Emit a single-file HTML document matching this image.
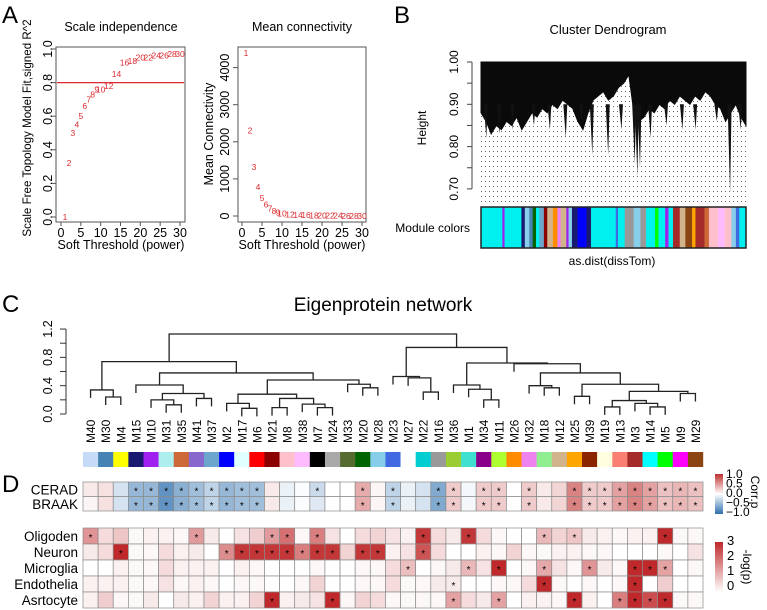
<!DOCTYPE html>
<html><head><meta charset="utf-8"><style>
html,body{margin:0;padding:0;background:#fff;}
svg{display:block;font-family:"Liberation Sans",Arial,sans-serif;}
</style></head><body>
<svg id="s" width="767" height="610" viewBox="0 0 767 610" xmlns="http://www.w3.org/2000/svg">
<defs><pattern id="dots" width="4" height="5" patternUnits="userSpaceOnUse"><rect x="1" y="1" width="1" height="1" fill="#666"/></pattern></defs>
<text x="2" y="23" font-size="24">A</text>
<text x="394" y="23" font-size="24">B</text>
<text x="2" y="312" font-size="24">C</text>
<text x="2" y="492" font-size="24">D</text>
<text x="121" y="31" font-size="12.5" text-anchor="middle">Scale independence</text>
<text x="302" y="31" font-size="12.5" text-anchor="middle">Mean connectivity</text>
<text x="121" y="249" font-size="12.5" text-anchor="middle">Soft Threshold (power)</text>
<text x="302" y="249" font-size="12.5" text-anchor="middle">Soft Threshold (power)</text>
<text transform="translate(31,128) rotate(-90)" font-size="11.6" text-anchor="middle">Scale Free Topology Model Fit,signed R^2</text>
<text transform="translate(213,134) rotate(-90)" font-size="12.5" text-anchor="middle">Mean Connectivity</text>
<text x="608" y="34" font-size="13" text-anchor="middle">Cluster Dendrogram</text>
<text transform="translate(426,128) rotate(-90)" font-size="12" text-anchor="middle">Height</text>
<text x="470" y="232" font-size="12" text-anchor="end">Module colors</text>
<text x="612" y="265" font-size="12" text-anchor="middle">as.dist(dissTom)</text>
<text x="383" y="311" font-size="19" text-anchor="middle">Eigenprotein network</text>
<text transform="translate(751,492) rotate(90)" font-size="12" text-anchor="middle">Corr.p</text>
<text transform="translate(743,567) rotate(90)" font-size="12" text-anchor="middle">-log(p)</text>
</svg>
<script>
const NS='http://www.w3.org/2000/svg';
const svg=document.getElementById('s');
function mk(tag,attrs){const e=document.createElementNS(NS,tag);for(const k in attrs)e.setAttribute(k,attrs[k]);svg.appendChild(e);return e;}

// ---------- Panel A data ----------
const powers=[1,2,3,4,5,6,7,8,9,10,12,14,16,18,20,22,24,26,28,30];
const scaleFitR2=[0.0,0.32,0.5,0.55,0.6,0.66,0.7,0.73,0.76,0.76,0.78,0.85,0.92,0.93,0.95,0.95,0.96,0.96,0.97,0.97];
const meanConn=[4400,2300,1320,780,490,310,200,140,100,70,45,30,22,16,12,9,7,5,4,3];
const xTicks=[0,5,10,15,20,25,30];
const r2Ticks=[0,0.2,0.4,0.6,0.8,1.0];
const r2TickLabels=['0.0','0.2','0.4','0.6','0.8','1.0'];
const connTicks=[0,1000,2000,3000,4000];
const cutoffR2=0.8;

// ---------- Panel B data ----------
const bEnvelope=[0.88,0.86,0.83,0.85,0.84,0.86,0.85,0.87,0.84,0.86,0.88,0.87,0.89,0.88,0.90,0.89,0.91,0.90,0.89,0.86,0.84,0.88,0.91,0.92,0.93,0.91,0.92,0.94,0.95,0.97,0.88,0.86,0.87,0.89,0.88,0.90,0.89,0.91,0.90,0.92,0.91,0.90,0.92,0.91,0.93,0.92,0.90,0.89,0.86,0.88,0.90,0.87,0.85];
const bSpikePos=[0.02,0.07,0.12,0.2,0.26,0.32,0.38,0.42,0.48,0.53,0.58,0.59,0.6,0.64,0.7,0.76,0.81,0.89,0.94,0.98];
const bSpikeH=[0.82,0.83,0.84,0.85,0.84,0.82,0.86,0.78,0.78,0.84,0.76,0.73,0.75,0.82,0.85,0.84,0.84,0.86,0.69,0.84];
const bTicks=[1.0,0.95,0.9,0.85,0.8,0.75,0.7];
const bTickLabels=['1.00','','0.90','','0.80','','0.70'];
const stripeColors=['#00f0f0','#a020f0','#00f0f0','#191970','#87ceeb','#4682b4','#006400','#00f0f0','#6ca6cd','#8b0000','#d2b48c','#ff8c00','#ee82ee','#d2b48c','#a020f0','#87ceeb','#191970','#0000ff','#191970','#00f0f0','#4169e1','#00f0f0','#999999','#87ceeb','#999999','#00f0f0','#00ff00','#00f0f0','#a020f0','#00f0f0','#a52a2a','#d2b48c','#8b4513','#ffa500','#a52a2a','#cd6839','#ffc0cb','#ffbbff','#ffc0cb','#87ceeb','#4169e1','#00f0f0'];
const stripeWidths=[19,2,15,3,4,3,3,3,4,3,5,4,3,5,2,3,5,8,4,22,2,6,8,6,5,8,3,6,3,4,6,5,6,3,8,4,8,6,6,4,3,6];

// ---------- Panel C data ----------
const modules=['M40','M30','M4','M15','M10','M31','M35','M41','M37','M2','M17','M6','M21','M8','M38','M7','M24','M33','M20','M28','M23','M27','M22','M16','M36','M1','M34','M11','M26','M32','M18','M12','M25','M39','M19','M13','M3','M14','M5','M9','M29'];
const moduleColors=['#c6dbf5','#4682b4','#ffff00','#191970','#a020f0','#afeeee','#cd6839','#8968cd','#6ca6cd','#0000ff','#e0ffff','#ff0000','#8b0000','#ffc0cb','#ffbbff','#000000','#a9a9a9','#556b2f','#006400','#87ceeb','#4169e1','#ffffff','#00ced1','#999999','#9acd32','#40e0d0','#8b008b','#adff2f','#ff8c00','#ee82ee','#90ee90','#d2b48c','#ffa500','#8b2500','#ffffe0','#fa8072','#a52a2a','#00ffff','#00ff00','#ff00ff','#8b4513'];
const merges=[[-2,-3],[-1,1],[-6,-7],[-5,3],[-8,-9],[4,5],[-4,6],[-11,-12],[-10,8],[-13,-14],[-16,-17],[-15,11],[10,12],[9,13],[-19,-20],[-18,15],[14,16],[7,17],[2,18],[-23,-24],[-22,20],[-21,21],[-27,-28],[-26,23],[-25,24],[-31,-32],[-30,26],[-33,-34],[-35,-36],[-38,-39],[-37,30],[29,31],[-40,-41],[32,33],[28,34],[27,35],[-29,36],[25,37],[22,38],[19,39]];
const mergeHeights=[0.24,0.34,0.13,0.20,0.22,0.29,0.41,0.08,0.15,0.09,0.09,0.14,0.22,0.28,0.37,0.42,0.48,0.58,0.74,0.31,0.51,0.53,0.20,0.35,0.41,0.37,0.40,0.25,0.10,0.10,0.15,0.19,0.29,0.32,0.42,0.58,0.71,0.72,0.94,1.13];
const cTicks=[0,0.2,0.4,0.6,0.8,1.0,1.2];
const cTickLabels=['0.0','','0.4','','0.8','','1.2'];

// ---------- Panel D data ----------
const traitNames=['CERAD','BRAAK'];
const ceradCorr=[0.1,0.15,-0.2,-0.5,-0.5,-0.75,-0.55,-0.45,-0.3,-0.5,-0.45,-0.45,0.1,-0.1,-0.02,-0.25,0,0,0.4,0.05,-0.3,-0.1,-0.2,-0.6,0.25,-0.05,0.25,0.25,0,0.25,0.1,0.2,0.6,0.25,0.25,0.45,0.6,0.45,0.3,0.35,0.3];
const braakCorr=[0.05,0.15,-0.2,-0.5,-0.5,-0.75,-0.55,-0.45,-0.3,-0.5,-0.45,-0.45,0.1,-0.1,-0.02,-0.15,0,0,0.4,0.05,-0.3,-0.1,-0.2,-0.6,0.25,-0.05,0.25,0.25,0,0.25,0.1,0.2,0.6,0.25,0.25,0.45,0.6,0.45,0.3,0.35,0.3];
const ceradStars=[3,4,5,6,7,8,9,10,11,15,18,20,23,24,26,27,29,32,33,34,35,36,37,38,39,40];
const braakStars=[3,4,5,6,7,8,9,10,11,18,20,23,24,26,27,29,32,33,34,35,36,37,38,39,40];
const cellNames=['Oligoden','Neuron','Microglia','Endothelia','Asrtocyte'];
const oligoLogP=[1.5,0.5,0.8,0.1,0.2,0.2,0.1,1.4,0.3,0,0.4,0.7,1.4,2,0.1,1.8,0.4,0,0.5,0.6,0.4,0.2,2.8,0.5,0.3,2.8,0.5,0.1,0,0,1,0.6,0.8,0.3,0.2,0.1,0.2,0.2,3,0.1,0.1];
const neuronLogP=[0.3,0.5,3,0.1,0.1,0.5,0.2,0.3,0,1.6,2.8,2.8,2.8,2.8,1.8,2.8,2.8,0.6,2.8,2.8,0.2,0.4,2.4,0.5,0,0,0.2,0.1,0.6,0.1,0.1,0.2,0.2,0.1,0.1,0,0,0,0.1,0,0.4];
const microLogP=[0,0,0.2,0.1,0.1,0.5,0.2,0.2,0.2,0,0.2,0.1,0,0,0,0.1,0,0,0.1,0.1,0.5,0.9,0,0.1,0.3,1,0.4,3,0,0.1,1.2,0.4,0.1,1.5,0.3,0.1,3,3,1.3,0,0.1];
const endoLogP=[0.2,0.2,0.2,0.1,0.1,0.4,0.1,0.2,0.1,0,0.1,0.1,0,0,0.1,0.6,0,0,0.1,0.1,0.5,0.1,0.1,0.3,0.3,0,0,0.1,0.1,0.5,3,0.1,0,0.1,0,0.1,3,0,0.7,0,0];
const astroLogP=[0.2,0.7,0.1,0.1,0.3,0,0.3,0.2,0.6,0.2,0.2,0.6,3,0.2,0.3,0.4,3,0.1,0.6,0.5,0.1,0.1,0.1,0.1,1.3,0.5,0.3,1.3,0,0.2,0.2,0.1,3,0.2,0,1.8,3,2.5,3,0.1,0.1];
const oligoStars=[0,7,12,13,15,22,25,30,32,38];
const neuronStars=[2,9,10,11,12,13,14,15,16,18,19,22];
const microStars=[21,25,27,30,33,36,37,38];
const endoStars=[24,30,36];
const astroStars=[12,16,24,27,32,35,36,37,38];
const corrLegendLabels=['1.0','0.5','0.0','\u22120.5','\u22121.0'];
const logpLegendLabels=['3','2','1','0'];

// ---------- Panel A drawing ----------
const redCol='#dd2a2f';
function drawA(px0,px1,box,yf,vals,ticks,tlabels,yTickX,prefix){
  const xf=p=>px0+p*(px1-px0)/30;
  const r=mk('rect',{x:box[0],y:box[1],width:box[2]-box[0],height:box[3]-box[1],fill:'none',stroke:'#555','stroke-width':1});
  
  
  xTicks.forEach(t=>{
    const l=mk('line',{x1:xf(t),x2:xf(t),y1:box[3],y2:box[3]+4,stroke:'#555'});
    
    
    const tx=mk('text',{x:xf(t),y:box[3]+15,'font-size':12.5,'text-anchor':'middle'});tx.textContent=t;
    
    
  });
  ticks.forEach((t,i)=>{
    const l=mk('line',{x1:box[0]-5,x2:box[0],y1:yf(t),y2:yf(t),stroke:'#555'});
    
    
    const tx=mk('text',{transform:`translate(${yTickX},${yf(t)}) rotate(-90)`,'font-size':12.5,'text-anchor':'middle'});tx.textContent=tlabels[i];
    
    
  });
  powers.forEach((p,i)=>{
    const tx=mk('text',{x:xf(p),y:yf(vals[i])+3,'font-size':8.5,'text-anchor':'middle',fill:redCol});tx.textContent=p;
    
    
  });
  return xf;
}
const yR2=v=>217-v*168;
drawA(61,180,[56,47,185,222],yR2,scaleFitR2,r2Ticks,r2TickLabels,52,'scale');
const cut=mk('line',{x1:57,x2:184,y1:yR2(cutoffR2),y2:yR2(cutoffR2),stroke:redCol,'stroke-width':1.2});


const yConn=v=>216-v*0.0371;
drawA(242,362,[238,47,366,222],yConn,meanConn,connTicks,connTicks.map(String),229,'conn');

// ---------- Panel B drawing ----------
const bx0=481,bx1=746,yB=h=>62+(1-h)*423;
const dotr=mk('rect',{x:bx0,y:64,width:bx1-bx0,height:141,fill:'url(#dots)'});


let pts=`${bx0},62 `;
bEnvelope.forEach((h,i)=>{const x=bx0+i*(bx1-bx0)/(bEnvelope.length-1);pts+=`${x},${yB(h)} `;});
pts+=`${bx1},62`;
const mass=mk('polygon',{points:pts,fill:'#0a0a0a',stroke:'#0a0a0a','stroke-width':1});


bSpikePos.forEach((f,i)=>{
  const x=bx0+f*(bx1-bx0);
  const sp=mk('polygon',{points:`${x-2.5},${yB(0.9)} ${x},${yB(bSpikeH[i])} ${x+1.5},${yB(0.9)}`,fill:'#111'});
  
  
});
const bax=mk('line',{x1:472,x2:472,y1:yB(1),y2:yB(0.7),stroke:'#444'});


bTicks.forEach((t,i)=>{
  const l=mk('line',{x1:467,x2:472,y1:yB(t),y2:yB(t),stroke:'#444'});
  
  
  if(bTickLabels[i]){const tx=mk('text',{transform:`translate(458,${yB(t)}) rotate(-90)`,'font-size':12,'text-anchor':'middle'});tx.textContent=bTickLabels[i];
  
  }
});
const totalW=stripeWidths.reduce((a,b)=>a+b,0);
let sx=bx0;
stripeColors.forEach((c,i)=>{
  const w=stripeWidths[i]*(bx1-bx0)/totalW;
  const s=mk('rect',{x:sx,y:207,width:w+0.3,height:41,fill:c});
  
  
  sx+=w;
});
const mb=mk('rect',{x:bx0,y:207,width:bx1-bx0,height:41,fill:'none',stroke:'#222','stroke-width':1.5});



// ---------- Panel C drawing ----------
const colX0=83,colW=620/41;
const cx=i=>colX0+(i+0.5)*colW;
const yC=h=>414-h*70.8;
const hang=0.113;
const cax=mk('line',{x1:66,x2:66,y1:yC(0),y2:yC(1.2),stroke:'#333'});


cTicks.forEach((t,i)=>{
  const l=mk('line',{x1:60,x2:66,y1:yC(t),y2:yC(t),stroke:'#333'});
  
  
  if(cTickLabels[i]){const tx=mk('text',{transform:`translate(52,${yC(t)}) rotate(-90)`,'font-size':12.5,'text-anchor':'middle'});tx.textContent=cTickLabels[i];
  
  }
});
const nodeX=[],nodeH=mergeHeights;
function refX(r){return r<0?cx(-r-1):nodeX[r-1];}
function refH(r,parentH){return r<0?parentH-hang:nodeH[r-1];}
merges.forEach((m,i)=>{
  const h=mergeHeights[i];
  const xa=refX(m[0]),xb=refX(m[1]);
  nodeX[i]=(xa+xb)/2;
  const p=mk('path',{d:`M${xa},${yC(refH(m[0],h))}V${yC(h)}H${xb}V${yC(refH(m[1],h))}`,fill:'none',stroke:'#222','stroke-width':1.3});
  
  
});
modules.forEach((m,i)=>{
  const tx=mk('text',{transform:`translate(${cx(i)+4.5},443) rotate(-90)`,'font-size':12,'text-anchor':'start'});tx.textContent=m;
  
  
  const r=mk('rect',{x:colX0+i*colW,y:452,width:colW+0.2,height:15,fill:moduleColors[i]});
  
  
});

// ---------- Panel D drawing ----------
function lerp(a,b,t){return a.map((v,i)=>Math.round(v+(b[i]-v)*t));}
function corrColor(v){const t=Math.min(1,Math.abs(v));return `rgb(${(v<0?lerp([255,255,255],[46,111,174],t):lerp([255,255,255],[192,48,47],t)).join(',')})`;}
function logpColor(v){const t=Math.min(1,v/3);return `rgb(${lerp([255,255,255],[192,41,43],t).join(',')})`;}
function drawRow(vals,stars,y,h,colorFn,name){
  vals.forEach((v,i)=>{
    const r=mk('rect',{x:colX0+i*colW,y:y,width:colW,height:h,fill:colorFn(v),stroke:'#8a8a8a','stroke-width':0.7});
    
    
  });
  stars.forEach(i=>{
    const tx=mk('text',{x:cx(i),y:y+h/2+5,'font-size':10,'text-anchor':'middle'});tx.textContent='*';
    
    
  });
  const lb=mk('text',{x:78,y:y+h/2+5,'font-size':13.5,'text-anchor':'end'});lb.textContent=name;
  
  
}
drawRow(ceradCorr,ceradStars,482,14.5,corrColor,traitNames[0]);
drawRow(braakCorr,braakStars,496.5,14.5,corrColor,traitNames[1]);
const cellVals=[oligoLogP,neuronLogP,microLogP,endoLogP,astroLogP];
const cellStars=[oligoStars,neuronStars,microStars,endoStars,astroStars];
cellNames.forEach((n,k)=>drawRow(cellVals[k],cellStars[k],528+k*16,16,logpColor,n));

// legends
const grad1=mk('linearGradient',{id:'g1',x1:0,y1:0,x2:0,y2:1});
[['0','rgb(192,48,47)'],['0.5','#fff'],['1','rgb(46,111,174)']].forEach(s=>{const st=document.createElementNS(NS,'stop');st.setAttribute('offset',s[0]);st.setAttribute('stop-color',s[1]);grad1.appendChild(st);});
const grad2=mk('linearGradient',{id:'g2',x1:0,y1:0,x2:0,y2:1});
[['0','rgb(192,41,43)'],['1','#fff']].forEach(s=>{const st=document.createElementNS(NS,'stop');st.setAttribute('offset',s[0]);st.setAttribute('stop-color',s[1]);grad2.appendChild(st);});
const l1=mk('rect',{x:715,y:474,width:8,height:40,fill:'url(#g1)'});


corrLegendLabels.forEach((t,i)=>{const tx=mk('text',{x:726,y:478+i*9.5,'font-size':12});tx.textContent=t;
  
  });
const l2=mk('rect',{x:715,y:542,width:8,height:50,fill:'url(#g2)'});


logpLegendLabels.forEach((t,i)=>{const tx=mk('text',{x:727,y:545+i*15,'font-size':13});tx.textContent=t;
  
  });
</script>
</body></html>
